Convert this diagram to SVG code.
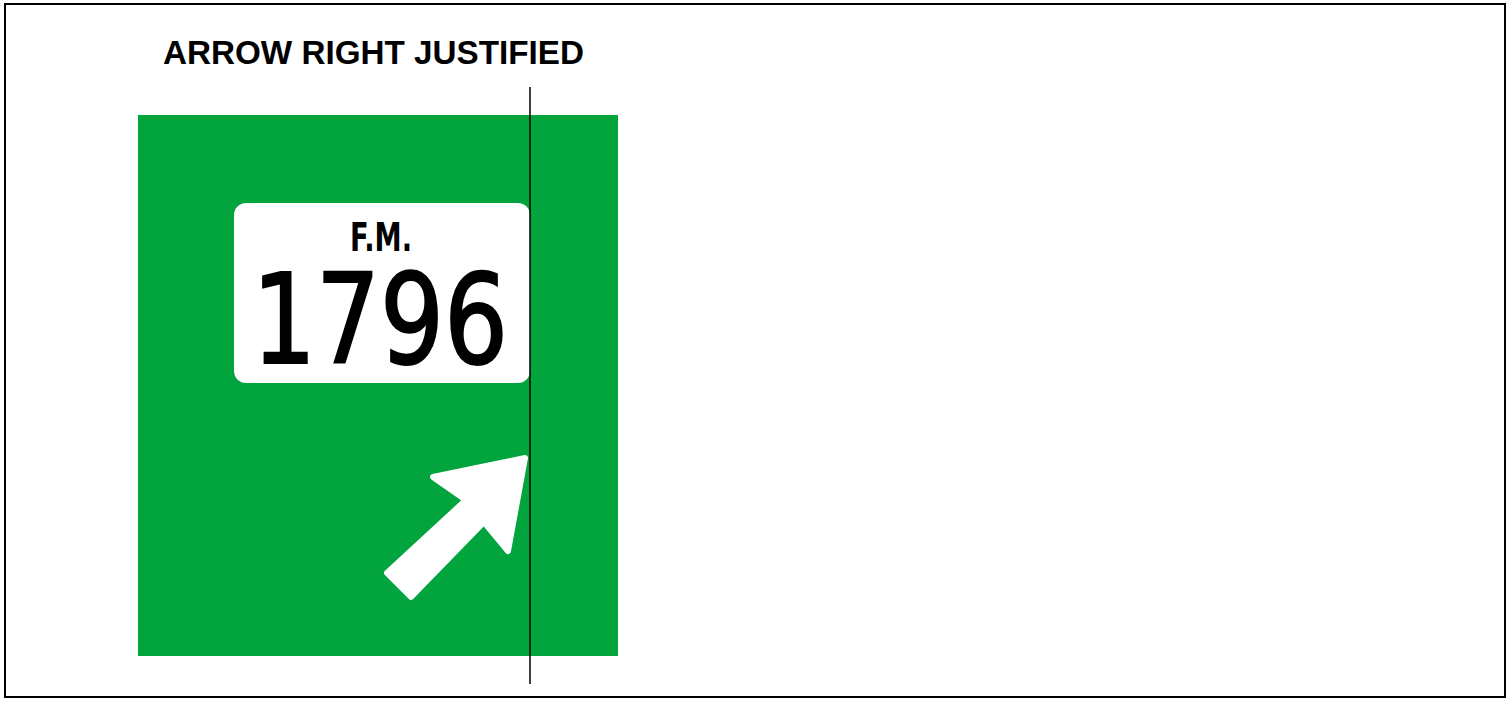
<svg xmlns="http://www.w3.org/2000/svg" width="1510" height="702" viewBox="0 0 1510 702">
<style>
.title{font-family:"Liberation Sans",Arial,sans-serif;font-weight:bold;fill:#000}
.sign{font-family:"DejaVu Sans Condensed","DejaVu Sans",sans-serif;fill:#000}
</style>
<rect x="0" y="0" width="1510" height="702" fill="#fff"/>
<rect x="5" y="4" width="1500" height="693" fill="none" stroke="#000" stroke-width="2"/>
<text class="title" x="163" y="64" font-size="33" textLength="421" lengthAdjust="spacingAndGlyphs">ARROW RIGHT JUSTIFIED</text>
<g id="sign">
<rect x="138" y="115" width="480" height="541" fill="#02A43E"/>
</g>
<g id="shield">
<rect x="234" y="203" width="296" height="180" rx="12" ry="12" fill="#fff"/>
<text class="sign" x="350" y="251" font-size="39" font-weight="bold" textLength="62" lengthAdjust="spacingAndGlyphs">F.M.</text>
<text class="sign" x="252" y="363" font-size="124" stroke="#000" stroke-width="2" textLength="256" lengthAdjust="spacingAndGlyphs">1796</text>
</g>
<g id="arrow">
<polygon points="525,458 433,477 466,500 387,573 411,597 484,522 508,551" fill="#fff" stroke="#fff" stroke-width="6" stroke-linejoin="round"/>
</g>
<g id="connectors">
<line x1="530" y1="87" x2="530" y2="684" stroke="#000" stroke-width="1.5"/>
</g>
</svg>
